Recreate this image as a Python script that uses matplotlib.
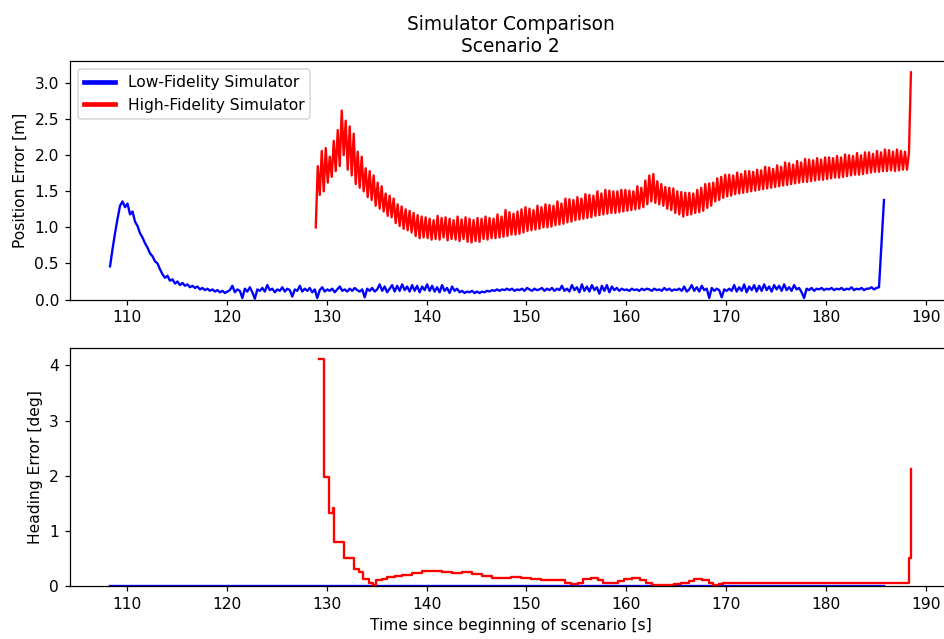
import numpy as np
import matplotlib
matplotlib.use('Agg')
import matplotlib.pyplot as plt
from matplotlib.lines import Line2D

# position error, low fidelity: one row per second, samples every 0.25 s from 108.3 s to 185.8 s
low_pos_start, low_pos_end = 108.3, 185.8
low_pos = [0.46, 0.70, 0.92, 1.12,
           1.30, 1.36, 1.28, 1.33,
           1.18, 1.22, 1.08, 1.02,
           0.92, 0.86, 0.78, 0.72,
           0.64, 0.60, 0.53, 0.50,
           0.42, 0.35, 0.30, 0.33,
           0.26, 0.28, 0.22, 0.25,
           0.20, 0.23, 0.19, 0.21,
           0.17, 0.19, 0.16, 0.18,
           0.14, 0.16, 0.13, 0.15,
           0.12, 0.14, 0.11, 0.13,
           0.10, 0.12, 0.09, 0.11,
           0.13, 0.19, 0.10, 0.14,
           0.12, 0.02, 0.15, 0.11,
           0.17, 0.10, 0.01, 0.14,
           0.12, 0.16, 0.11, 0.20,
           0.13, 0.15, 0.10, 0.14,
           0.12, 0.17, 0.11, 0.15,
           0.13, 0.04, 0.14, 0.12,
           0.19, 0.11, 0.15, 0.12,
           0.16, 0.10, 0.14, 0.02,
           0.13, 0.17, 0.11, 0.14,
           0.12, 0.15, 0.10, 0.14,
           0.18, 0.12, 0.14, 0.11,
           0.15, 0.12, 0.16, 0.13,
           0.11, 0.14, 0.03, 0.15,
           0.12, 0.16, 0.11, 0.14,
           0.21, 0.12, 0.18, 0.10,
           0.15, 0.20, 0.11, 0.19,
           0.12, 0.21, 0.13, 0.18,
           0.11, 0.20, 0.12, 0.19,
           0.10, 0.18, 0.13, 0.21,
           0.12, 0.19, 0.11, 0.17,
           0.10, 0.20, 0.12, 0.16,
           0.09, 0.18, 0.12, 0.15,
           0.10, 0.12, 0.09, 0.11,
           0.10, 0.12, 0.09, 0.11,
           0.09, 0.11, 0.10, 0.12,
           0.11, 0.13, 0.12, 0.14,
           0.12, 0.14, 0.13, 0.15,
           0.13, 0.15, 0.12, 0.14,
           0.13, 0.15, 0.12, 0.16,
           0.14, 0.12, 0.15, 0.13,
           0.14, 0.16, 0.12, 0.15,
           0.13, 0.16, 0.12, 0.15,
           0.13, 0.19, 0.12, 0.15,
           0.11, 0.20, 0.13, 0.17,
           0.10, 0.21, 0.12, 0.18,
           0.11, 0.20, 0.13, 0.17,
           0.08, 0.19, 0.12, 0.20,
           0.10, 0.18, 0.13, 0.16,
           0.12, 0.15, 0.13, 0.14,
           0.12, 0.15, 0.13, 0.14,
           0.12, 0.15, 0.13, 0.15,
           0.14, 0.12, 0.15, 0.13,
           0.14, 0.12, 0.16, 0.13,
           0.15, 0.12, 0.14, 0.13,
           0.15, 0.12, 0.18, 0.11,
           0.14, 0.20, 0.12, 0.17,
           0.11, 0.19, 0.13, 0.15,
           0.02, 0.16, 0.12, 0.15,
           0.13, 0.03, 0.14, 0.12,
           0.15, 0.12, 0.20, 0.11,
           0.17, 0.12, 0.21, 0.10,
           0.18, 0.13, 0.20, 0.11,
           0.19, 0.12, 0.21, 0.13,
           0.18, 0.11, 0.20, 0.14,
           0.19, 0.12, 0.21, 0.13,
           0.17, 0.12, 0.20, 0.14,
           0.16, 0.10, 0.02, 0.15,
           0.13, 0.16, 0.12, 0.15,
           0.14, 0.16, 0.13, 0.15,
           0.14, 0.16, 0.13, 0.15,
           0.14, 0.16, 0.13, 0.15,
           0.14, 0.17, 0.13, 0.15,
           0.14, 0.16, 0.13, 0.15,
           0.15, 0.17, 0.14, 0.16,
           0.17, 0.78, 1.38]

# position error, high fidelity: one row per second, samples every 0.2 s from 128.9 s to 188.5 s
high_pos_start, high_pos_end = 128.9, 188.5
high_pos = [1.00, 1.85, 1.45, 2.06, 1.50,
            2.10, 1.62, 1.98, 1.70, 2.20,
            1.78, 2.35, 1.85, 2.62, 2.00,
            2.48, 1.80, 2.40, 1.72, 2.30,
            1.60, 2.05, 1.55, 1.98, 1.50,
            1.82, 1.42, 1.78, 1.38, 1.72,
            1.30, 1.62, 1.26, 1.57, 1.22,
            1.47, 1.16, 1.44, 1.14, 1.40,
            1.06, 1.32, 1.02, 1.29, 0.98,
            1.25, 0.96, 1.23, 0.93, 1.20,
            0.88, 1.17, 0.85, 1.15, 0.86,
            1.14, 0.85, 1.12, 0.83, 1.10,
            0.84, 1.16, 0.83, 1.13, 0.86,
            1.14, 0.82, 1.12, 0.84, 1.10,
            0.83, 1.15, 0.81, 1.11, 0.84,
            1.14, 0.80, 1.12, 0.79, 1.10,
            0.81, 1.13, 0.80, 1.12, 0.84,
            1.15, 0.83, 1.13, 0.85, 1.12,
            0.85, 1.18, 0.86, 1.15, 0.87,
            1.24, 0.88, 1.21, 0.90, 1.19,
            0.90, 1.22, 0.91, 1.25, 0.93,
            1.28, 0.95, 1.26, 0.96, 1.24,
            0.97, 1.30, 0.98, 1.28, 1.00,
            1.32, 1.00, 1.31, 1.01, 1.30,
            1.03, 1.36, 1.04, 1.33, 1.05,
            1.40, 1.07, 1.39, 1.08, 1.38,
            1.10, 1.42, 1.11, 1.40, 1.12,
            1.46, 1.13, 1.45, 1.14, 1.44,
            1.16, 1.50, 1.17, 1.47, 1.18,
            1.52, 1.19, 1.51, 1.20, 1.50,
            1.20, 1.50, 1.21, 1.52, 1.22,
            1.52, 1.23, 1.51, 1.24, 1.50,
            1.25, 1.57, 1.26, 1.55, 1.28,
            1.65, 1.32, 1.72, 1.36, 1.74,
            1.34, 1.64, 1.32, 1.60, 1.30,
            1.56, 1.26, 1.55, 1.24, 1.54,
            1.20, 1.50, 1.18, 1.49, 1.15,
            1.48, 1.17, 1.48, 1.18, 1.47,
            1.20, 1.52, 1.21, 1.55, 1.23,
            1.60, 1.27, 1.61, 1.30, 1.62,
            1.36, 1.68, 1.38, 1.70, 1.41,
            1.73, 1.43, 1.73, 1.44, 1.72,
            1.46, 1.76, 1.47, 1.74, 1.48,
            1.78, 1.49, 1.78, 1.50, 1.77,
            1.51, 1.80, 1.52, 1.79, 1.53,
            1.84, 1.54, 1.83, 1.55, 1.81,
            1.56, 1.86, 1.57, 1.84, 1.58,
            1.90, 1.59, 1.89, 1.60, 1.87,
            1.61, 1.92, 1.62, 1.90, 1.63,
            1.95, 1.63, 1.94, 1.64, 1.93,
            1.65, 1.96, 1.66, 1.94, 1.66,
            1.97, 1.67, 1.97, 1.68, 1.96,
            1.69, 1.99, 1.69, 1.97, 1.70,
            2.01, 1.71, 2.00, 1.72, 1.99,
            1.73, 2.03, 1.73, 2.00, 1.74,
            2.04, 1.75, 2.04, 1.76, 2.02,
            1.77, 2.06, 1.77, 2.04, 1.78,
            2.08, 1.78, 2.07, 1.79, 2.05,
            1.78, 2.08, 1.79, 2.06, 1.80,
            2.05, 1.80, 2.03, 3.15]

# heading error
low_head_t = [108.3, 130.0, 160.0, 185.8]
low_head = [0.0, 0.0, 0.0, 0.0]

high_head_t = [129.2, 129.75, 130.2, 130.6, 130.75, 131.7, 132.7, 133.2, 133.6,
               134.2, 134.6, 134.9, 135.5, 136.0, 136.8, 137.5, 138.5, 139.5,
               140.5, 141.5, 142.5, 143.5, 144.5, 145.5, 146.5, 147.5, 148.5,
               149.5, 150.5, 151.5, 152.5, 153.3, 153.9, 154.5, 155.2, 155.7,
               156.5, 157.2, 157.7, 158.5, 159.2, 159.8, 160.6, 161.4, 162.0,
               162.6, 163.5, 164.3, 164.8, 165.5, 166.3, 166.8, 167.6, 168.3,
               168.7, 169.3, 169.7, 188.1, 188.3, 188.5]
high_head = [4.12, 1.97, 1.33, 1.41, 0.80, 0.50, 0.30, 0.26, 0.12,
             0.06, 0.02, 0.10, 0.13, 0.17, 0.19, 0.20, 0.24, 0.27,
             0.28, 0.26, 0.24, 0.25, 0.22, 0.18, 0.15, 0.14, 0.16,
             0.14, 0.12, 0.11, 0.10, 0.11, 0.06, 0.04, 0.06, 0.13,
             0.14, 0.10, 0.05, 0.05, 0.09, 0.13, 0.14, 0.11, 0.06,
             0.02, 0.01, 0.01, 0.04, 0.06, 0.09, 0.12, 0.11, 0.06,
             0.02, 0.03, 0.06, 0.06, 0.50, 2.12]

low_t = np.linspace(low_pos_start, low_pos_end, len(low_pos))
high_t = np.linspace(high_pos_start, high_pos_end, len(high_pos))

dpi = 112
fig = plt.figure(figsize=(944/dpi, 639/dpi), dpi=dpi)
ax1 = fig.add_axes([70/944, 1-299.5/639, 881/944, 238.5/639])
ax2 = fig.add_axes([70/944, 1-586/639, 881/944, 238.5/639], sharex=ax1)

ax1.plot(low_t, low_pos, color='blue', linewidth=1.5)
ax1.plot(high_t, high_pos, color='red', linewidth=1.5)
ax1.set_ylim(bottom=0)
ax1.set_ylabel('Position Error [m]')
ax1.set_title('Simulator Comparison\nScenario 2')
handles = [Line2D([0], [0], color='blue', linewidth=3),
           Line2D([0], [0], color='red', linewidth=3)]
ax1.legend(handles, ['Low-Fidelity Simulator', 'High-Fidelity Simulator'], loc='upper left')
ax1.tick_params(labelbottom=True)

ax2.plot(low_head_t, low_head, color='blue', linewidth=1.5)
ax2.plot(high_head_t, high_head, color='red', linewidth=1.5, drawstyle='steps-post')
ax2.set_ylim(bottom=0)
ax2.set_ylabel('Heading Error [deg]')
ax2.set_xlabel('Time since beginning of scenario [s]')

fig.savefig('out.png', dpi=dpi)
